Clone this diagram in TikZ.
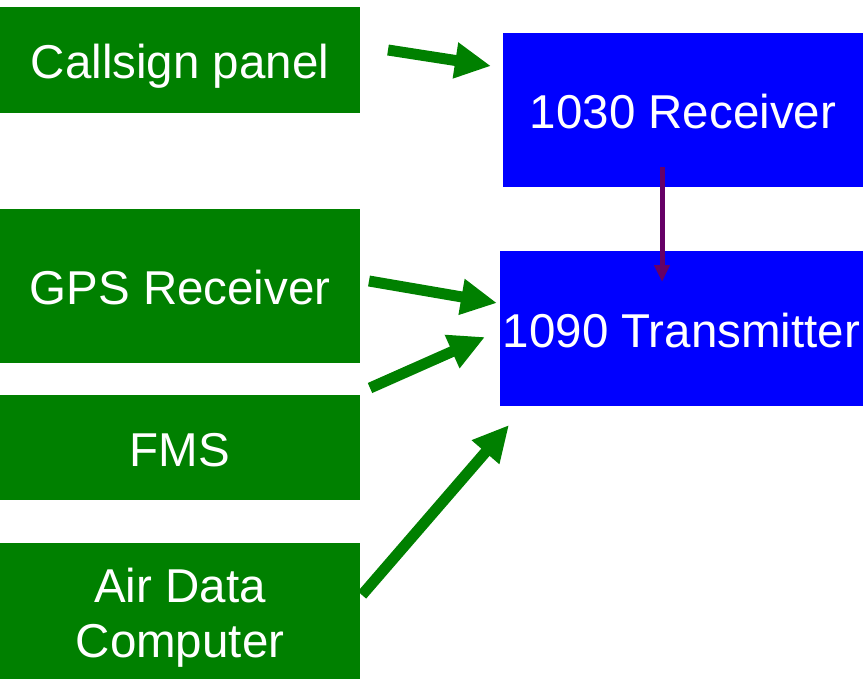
\documentclass[tikz,border=0pt]{standalone}
\usepackage{fontspec}
\setmainfont{Liberation Sans}
\usetikzlibrary{arrows.meta}
\definecolor{boxgreen}{HTML}{008000}
\definecolor{boxblue}{HTML}{0000FF}
\definecolor{linkpurple}{HTML}{660066}
\begin{document}
\begin{tikzpicture}[x=1pt,y=-1pt,
  srcbox/.style={fill=boxgreen,text=white,inner sep=0pt,align=center,
    text height=37pt,text depth=0pt,
    font=\fontsize{47.5}{55}\selectfont},
  radiobox/.style={fill=boxblue,text=white,inner sep=0pt,align=center,
    text height=37pt,text depth=0pt,
    font=\fontsize{47.5}{55}\selectfont},
  feed/.style={draw=boxgreen,line width=11pt,
    -{Triangle[length=36pt,width=34pt]}},
  trigger/.style={draw=linkpurple,line width=5pt,
    -{Triangle[length=17pt,width=15pt]}}]
\useasboundingbox (0,0) rectangle (867,679);
% data sources
\node[srcbox,minimum width=360pt,minimum height=106pt] (call) at (180,60) {Callsign panel};
\node[srcbox,minimum width=360pt,minimum height=154pt] (gps) at (180,286) {GPS Receiver};
\node[srcbox,minimum width=360pt,minimum height=105pt] (fms) at (180,447.5) {FMS};
\node[srcbox,minimum width=360pt,minimum height=136pt,text height=92pt] (adc) at (180,611) {Air Data\\Computer};
% transponder units
\node[radiobox,minimum width=360pt,minimum height=154pt] (rx) at (683,110) {1030 Receiver};
\node[radiobox,minimum width=363pt,minimum height=155pt] (tx) at (681.5,328.5) {1090 Transmitter};
% arrow end points
\coordinate (callout) at (388,50);
\coordinate (rxin) at (491,66);
\coordinate (gpsout) at (369,281);
\coordinate (txin1) at (497,303);
\coordinate (fmsout) at (370,388);
\coordinate (txin2) at (485,337);
\coordinate (adcout) at (362,595);
\coordinate (txin3) at (509,425);
\coordinate (rxout) at (662,167);
\coordinate (txtop) at (662,282);
% connections
\draw[feed] (callout) -- (rxin);
\draw[feed] (gpsout) -- (txin1);
\draw[feed] (fmsout) -- (txin2);
\draw[feed] (adcout) -- (txin3);
\draw[trigger] (rxout) -- (txtop);
\end{tikzpicture}
\end{document}
